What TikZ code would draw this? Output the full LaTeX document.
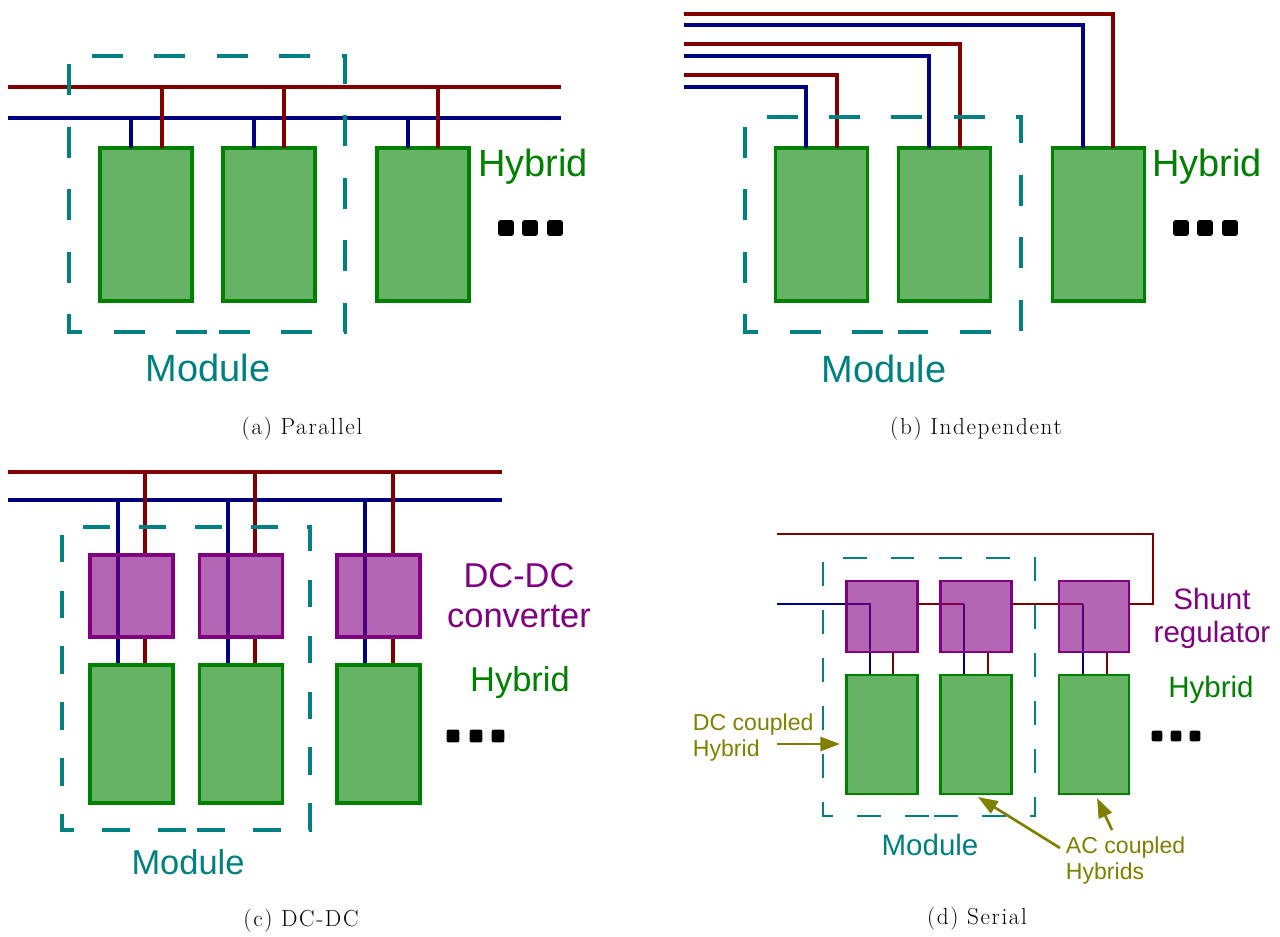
\documentclass[tikz,border=0pt]{standalone}
\usepackage{fontspec}
\newfontfamily\labelfont{Liberation Sans}
\newfontfamily\capfont[LetterSpace=7]{Latin Modern Roman}
\usepackage{tikz}
\usetikzlibrary{arrows.meta}
\usetikzlibrary{calc}

\definecolor{wirered}{RGB}{128,0,0}
\definecolor{wireblue}{RGB}{0,0,128}
\definecolor{hybridgreen}{RGB}{0,128,0}
\definecolor{dcdcpurple}{RGB}{128,0,128}
\definecolor{moduleteal}{RGB}{0,128,128}
\definecolor{noteolive}{RGB}{128,128,0}

\pgfdeclarelayer{wires}
\pgfsetlayers{wires,main}

\tikzset{
    redwire/.style={draw=wirered,line width=2.2pt},
    bluewire/.style={draw=wireblue,line width=2.2pt},
    thinred/.style={draw=wirered,line width=1.8pt},
    thinblue/.style={draw=wireblue,line width=1.8pt},
    box/.style={rectangle,inner sep=0pt,outer sep=0pt,line width=2.2pt,fill opacity=0.6},
    hybridbox/.style={box,draw=hybridgreen,fill=hybridgreen},
    convbox/.style={box,draw=dcdcpurple,fill=dcdcpurple},
    hybrida/.style={hybridbox,minimum width=2.3cm,minimum height=3.825cm},
    hybridc/.style={hybridbox,minimum width=2.075cm,minimum height=3.45cm},
    convc/.style={convbox,minimum width=2.075cm,minimum height=2.05cm},
    hybridd/.style={hybridbox,line width=1.9pt,minimum width=1.78cm,minimum height=2.975cm},
    convd/.style={convbox,line width=1.9pt,minimum width=1.78cm,minimum height=1.78cm},
    modulea/.style={draw=moduleteal,line width=2.2pt,dash pattern=on 22pt off 22.4pt},
    modulec/.style={draw=moduleteal,line width=2.2pt,dash pattern=on 19.7pt off 20.1pt},
    moduled/.style={draw=moduleteal,line width=1.8pt,dash pattern=on 17pt off 17.1pt},
    dotbox/.style={rectangle,fill=black,inner sep=0pt,rounded corners=1.5pt,minimum size=0.39cm},
    dotsmall/.style={dotbox,minimum size=0.32cm},
    dottiny/.style={dotbox,minimum size=0.27cm},
    biglabel/.style={font=\labelfont\fontsize{27}{32}\selectfont},
    midlabel/.style={font=\labelfont\fontsize{24.5}{28.4}\selectfont,align=center},
    smalllabel/.style={font=\labelfont\fontsize{21}{23.5}\selectfont,align=center},
    notelabel/.style={font=\labelfont\fontsize{16.4}{18.5}\selectfont,align=left,text=noteolive,anchor=west},
    notearrow/.style={draw=noteolive,line width=1.9pt,-{Triangle[length=14pt,width=10pt]}},
    caption/.style={font=\capfont\fontsize{16.5}{19}\selectfont},
}

\begin{document}
\begin{tikzpicture}[x=0.025cm,y=-0.025cm]
        \useasboundingbox (0,0) rectangle (1280,936);

        % parallel
        \node[hybrida] (ha1) at (146,224.5) {};
        \node[hybrida] (ha2) at (269,224.5) {};
        \node[hybrida] (ha3) at (423,224.5) {};
        \coordinate (reda1) at (162,87);
        \coordinate (reda2) at (284,87);
        \coordinate (reda3) at (438,87);
        \coordinate (bluea1) at (131,118);
        \coordinate (bluea2) at (254,118);
        \coordinate (bluea3) at (408,118);
        \coordinate (busaL) at (8,87);
        \coordinate (busaR) at (561,87);
        \coordinate (retaL) at (8,118);
        \coordinate (retaR) at (561,118);
        \draw[redwire] (busaL) -- (busaR);
        \draw[bluewire] (retaL) -- (retaR);
        \draw[bluewire] (bluea1) -- (bluea1 |- ha1.north);
        \draw[redwire] (reda1) -- (reda1 |- ha1.north);
        \draw[bluewire] (bluea2) -- (bluea2 |- ha2.north);
        \draw[redwire] (reda2) -- (reda2 |- ha2.north);
        \draw[bluewire] (bluea3) -- (bluea3 |- ha3.north);
        \draw[redwire] (reda3) -- (reda3 |- ha3.north);
        \draw[modulea] (207,332) -| (69,56) -| (345,332) -- cycle;
        \node[biglabel,text=hybridgreen] (hlaba) at (533,167) {Hybrid};
        \node[biglabel,text=moduleteal] (mlaba) at (208,368) {Module};
        \node[dotbox] (da1) at (506,228) {};
        \node[dotbox] (da2) at (530,228) {};
        \node[dotbox] (da3) at (555,228) {};
        \node[caption] (capa) at (302,429) {(a) Parallel};

        % independent
        \node[hybrida] (hb1) at (821.5,224.5) {};
        \node[hybrida] (hb2) at (944.5,224.5) {};
        \node[hybrida] (hb3) at (1098.5,224.5) {};
        \coordinate (blueb1) at (684,87);
        \coordinate (redb1) at (684,75);
        \coordinate (blueb2) at (684,56);
        \coordinate (redb2) at (684,44);
        \coordinate (blueb3) at (684,25);
        \coordinate (redb3) at (684,14);
        \draw[bluewire] (blueb1) -| (806,148);
        \draw[redwire] (redb1) -| (837,148);
        \draw[bluewire] (blueb2) -| (929,148);
        \draw[redwire] (redb2) -| (960,148);
        \draw[bluewire] (blueb3) -| (1083,148);
        \draw[redwire] (redb3) -| (1113,148);
        \draw[modulea] (883,332) -| (745,117) -| (1021,332) -- cycle;
        \node[biglabel,text=hybridgreen] (hlabb) at (1207,167) {Hybrid};
        \node[biglabel,text=moduleteal] (mlabb) at (884,369) {Module};
        \node[dotbox] (db1) at (1181,228) {};
        \node[dotbox] (db2) at (1205,228) {};
        \node[dotbox] (db3) at (1230,228) {};
        \node[caption] (capb) at (976,429) {(b) Independent};

        % dc-dc
        \node[convc] (cc1) at (131.5,596) {};
        \node[convc] (cc2) at (241,596) {};
        \node[convc] (cc3) at (378.5,596) {};
        \node[hybridc] (hc1) at (131.5,734) {};
        \node[hybridc] (hc2) at (241,734) {};
        \node[hybridc] (hc3) at (378.5,734) {};
        \coordinate (busc1) at (145,472);
        \coordinate (busc2) at (255,472);
        \coordinate (busc3) at (393,472);
        \coordinate (retc1) at (118,500);
        \coordinate (retc2) at (228,500);
        \coordinate (retc3) at (365,500);
        \begin{pgfonlayer}{wires}
        \draw[redwire] (8,472) -- (502,472);
        \draw[bluewire] (8,500) -- (502,500);
        \draw[bluewire] (retc1) -- (retc1 |- hc1.north);
        \draw[bluewire] (retc2) -- (retc2 |- hc2.north);
        \draw[bluewire] (retc3) -- (retc3 |- hc3.north);
        \draw[redwire] (busc1) -- (busc1 |- cc1.north);
        \draw[redwire] (busc2) -- (busc2 |- cc2.north);
        \draw[redwire] (busc3) -- (busc3 |- cc3.north);
        \draw[redwire] (busc1 |- cc1.south) -- (busc1 |- hc1.north);
        \draw[redwire] (busc2 |- cc2.south) -- (busc2 |- hc2.north);
        \draw[redwire] (busc3 |- cc3.south) -- (busc3 |- hc3.north);
        \end{pgfonlayer}
        \draw[modulec] (186,830) -| (62,527) -| (310,830) -- cycle;
        \node[midlabel,text=dcdcpurple] (clabc) at (519,596) {DC-DC\\converter};
        \node[midlabel,text=hybridgreen] (hlabc) at (520,683) {Hybrid};
        \node[midlabel,text=moduleteal] (mlabc) at (188,862) {Module};
        \node[dotsmall] (dc1) at (453,736) {};
        \node[dotsmall] (dc2) at (476,736) {};
        \node[dotsmall] (dc3) at (498,736) {};
        \node[caption] (capc) at (301,921) {(c) DC-DC};

        % serial
        \node[convd] (cd1) at (882,616.5) {};
        \node[convd] (cd2) at (976,616.5) {};
        \node[convd,minimum width=1.75cm] (cd3) at (1094,616.5) {};
        \node[hybridd] (hd1) at (882,734.5) {};
        \node[hybridd] (hd2) at (976,734.5) {};
        \node[hybridd,minimum width=1.75cm] (hd3) at (1094,734.5) {};
        \coordinate (topd) at (777,534);
        \coordinate (ind) at (777,604);
        \coordinate (turnd) at (1153,604);
        \coordinate (turnd1) at (870,604);
        \coordinate (turnd2) at (964,604);
        \coordinate (turnd3) at (1083,604);
        \coordinate (tapd1) at (893,652);
        \coordinate (tapd2) at (988,652);
        \coordinate (tapd3) at (1107,652);
        \begin{pgfonlayer}{wires}
        \draw[thinred] (topd) -| (turnd) -- (cd3.east |- turnd);
        \draw[thinblue] (ind) -- (turnd1) -- (turnd1 |- hd1.north);
        \draw[thinred] (cd1.east |- turnd) -- (turnd2);
        \draw[thinblue] (turnd2) -- (turnd2 |- hd2.north);
        \draw[thinred] (cd2.east |- turnd) -- (turnd3);
        \draw[thinblue] (turnd3) -- (turnd3 |- hd3.north);
        \draw[thinred] (tapd1) -- (tapd1 |- hd1.north);
        \draw[thinred] (tapd2) -- (tapd2 |- hd2.north);
        \draw[thinred] (tapd3) -- (tapd3 |- hd3.north);
        \end{pgfonlayer}
        \draw[moduled] (929,816) -| (823,558) -| (1035,816) -- cycle;
        \node[smalllabel,text=dcdcpurple] (clabd) at (1212,618) {Shunt\\regulator};
        \node[smalllabel,text=hybridgreen] (hlabd) at (1211,690) {Hybrid};
        \node[smalllabel,text=moduleteal] (mlabd) at (930,845) {Module};
        \node[dottiny] (dd1) at (1157,736) {};
        \node[dottiny] (dd2) at (1176,736) {};
        \node[dottiny] (dd3) at (1195,736) {};
        \node[notelabel] (dcnote) at (688,738) {DC coupled\\Hybrid};
        \node[notelabel] (acnote) at (1061,861) {AC coupled\\Hybrids};
        \coordinate (dcfrom) at (777,744);
        \coordinate (dcto) at (840,744);
        \coordinate (acfroma) at (1060,848);
        \coordinate (actoa) at (978,797);
        \coordinate (acfromb) at (1112,830);
        \coordinate (actob) at (1097,798);
        \draw[notearrow] (dcfrom) -- (dcto);
        \draw[notearrow] (acfroma) -- (actoa);
        \draw[notearrow] (acfromb) -- (actob);
        \node[caption] (capd) at (977,919) {(d) Serial};

\end{tikzpicture}
\end{document}
